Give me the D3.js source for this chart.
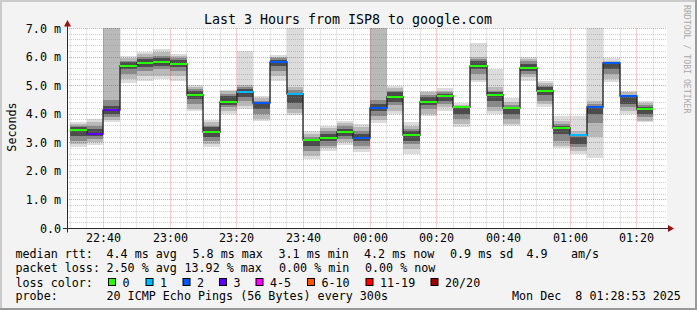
<!DOCTYPE html>
<html>
<head>
<meta charset="utf-8">
<script src="https://cdn.jsdelivr.net/npm/d3@7"></script>
<style>
  html, body { margin: 0; padding: 0; background: #f3f3f3; }
  svg { display: block; }
  text { font-family: "DejaVu Sans Mono", monospace; fill: #000; white-space: pre; }
</style>
</head>
<body>
<script>
// one bar per 5 minute step, labelled by its end time
const barEnds = [
    "22:35", "22:40", "22:45", "22:50", "22:55", "23:00", "23:05", "23:10", "23:15", "23:20",
    "23:25", "23:30", "23:35", "23:40", "23:45", "23:50", "23:55", "00:00", "00:05", "00:10",
    "00:15", "00:20", "00:25", "00:30", "00:35", "00:40", "00:45", "00:50", "00:55", "01:00",
    "01:05", "01:10", "01:15", "01:20", "01:25"
];
const medianRtt = [
    3.46, 3.30, 4.14, 5.70, 5.79, 5.82, 5.74, 4.66, 3.37, 4.44,
    4.77, 4.38, 5.82, 4.70, 3.09, 3.18, 3.37, 3.16, 4.21, 4.60,
    3.28, 4.44, 4.63, 4.25, 5.70, 4.66, 4.22, 5.61, 4.80, 3.51,
    3.27, 4.25, 5.78, 4.63, 4.17
];
const lostPings = [
    0, 3, 3, 0, 0, 0, 0, 0, 0, 0,
    1, 2, 2, 1, 0, 0, 0, 2, 2, 0,
    0, 0, 0, 0, 0, 0, 0, 0, 0, 0,
    1, 2, 2, 2, 0
];
// smoke bands [low, high] in ms, outermost pings first
const smokeOuter = [
    [2.85, 3.72], [2.93, 3.84], [3.72, 7.8], [5.10, 6.03], [5.18, 6.19], [5.24, 6.29], [5.18, 6.11],
    [4.10, 5.03], [2.85, 3.80], [4.01, 4.86], [4.20, 6.23], [3.78, 4.63], [5.18, 6.08], [3.98, 7.8],
    [2.44, 3.40], [2.73, 3.60], [2.93, 3.78], [2.67, 3.66], [3.70, 7.8], [4.01, 5.00], [2.61, 3.72],
    [3.93, 4.83], [4.13, 4.91], [3.55, 4.40], [5.12, 6.50], [4.01, 5.59], [3.58, 4.56], [5.18, 6.00],
    [4.25, 5.18], [2.81, 3.93], [2.61, 3.93], [2.46, 7.8], [5.12, 5.96], [4.01, 4.83], [3.72, 4.48]
];
const smokeMid = [
    [2.96, 3.66], [3.02, 3.72], [3.80, 7.5], [5.24, 5.96], [5.35, 6.11], [5.35, 6.19], [5.35, 6.05],
    [4.19, 4.95], [2.96, 3.72], [4.10, 4.80], [4.30, 5.02], [3.84, 4.56], [5.35, 6.02], [4.05, 4.95],
    [2.55, 3.31], [2.81, 3.51], [3.02, 3.70], [2.79, 3.55], [3.80, 7.4], [4.13, 4.91], [2.79, 3.60],
    [4.01, 4.77], [4.25, 4.83], [3.66, 4.33], [5.20, 6.00], [4.10, 4.95], [3.66, 4.44], [5.30, 5.94],
    [4.36, 5.10], [2.90, 3.78], [2.73, 3.43], [3.20, 4.45], [5.24, 5.88], [4.10, 4.77], [3.78, 4.40]
];
const smokeInner = [
    [3.08, 3.60], [3.14, 3.60], [3.90, 4.50], [5.41, 5.88], [5.53, 5.99], [5.59, 6.05], [5.53, 5.97],
    [4.36, 4.89], [3.08, 3.60], [4.25, 4.71], [4.45, 4.95], [4.01, 4.48], [5.53, 5.96], [4.20, 4.85],
    [2.70, 3.20], [2.90, 3.40], [3.14, 3.60], [2.90, 3.43], [3.95, 4.50], [4.31, 4.83], [2.96, 3.49],
    [4.19, 4.68], [4.36, 4.77], [3.84, 4.25], [5.41, 5.94], [4.25, 4.83], [3.84, 4.33], [5.41, 5.85],
    [4.48, 5.00], [3.08, 3.66], [2.85, 3.25], [3.70, 4.35], [5.41, 5.82], [4.25, 4.68], [3.90, 4.31]
];
const smokeCore = [
    [3.25, 3.55], [3.25, 3.49], [4.00, 4.30], [5.59, 5.82], [5.65, 5.94], [5.70, 5.96], [5.65, 5.90],
    [4.54, 4.83], [3.20, 3.55], [4.33, 4.63], [4.60, 4.88], [4.19, 4.44], [5.70, 5.90], [4.40, 4.75],
    [2.90, 3.14], [3.08, 3.31], [3.25, 3.49], [3.08, 3.31], [4.10, 4.35], [4.44, 4.77], [3.08, 3.40],
    [4.31, 4.60], [4.48, 4.71], [4.01, 4.21], [5.59, 5.85], [4.48, 4.77], [4.01, 4.27], [5.53, 5.76],
    [4.66, 4.95], [3.31, 3.60], [2.96, 3.20], [4.00, 4.30], [5.59, 5.80], [4.36, 4.62], [4.01, 4.25]
];

const lossBuckets = ["0", "1", "2", "3", "4-5", "6-10", "11-19", "20/20"];
const lossUpper = [0, 1, 2, 3, 5, 10, 19, 20];
const lossColors = ["#26ff00", "#00b8ff", "#0059ff", "#5e00ff", "#ff00ff", "#ff5500", "#ff0000", "#a10000"];

const yTickValues = [0, 1, 2, 3, 4, 5, 6, 7];
const yTickLabels = ["0.0", "1.0 m", "2.0 m", "3.0 m", "4.0 m", "5.0 m", "6.0 m", "7.0 m"];
const xTickLabels = ["22:40", "23:00", "23:20", "23:40", "00:00", "00:20", "00:40", "01:00", "01:20"];

const titleText = "Last 3 Hours from ISP8 to google.com";
const rttStats = ["4.4 ms avg", "5.8 ms max", "3.1 ms min", "4.2 ms now", "0.9 ms sd", "4.9", "am/s"];
const lossStats = ["2.50 % avg", "13.92 % max", "0.00 % min", "0.00 % now"];
const probeText = "20 ICMP Echo Pings (56 Bytes) every 300s";
const stampText = "Mon Dec  8 01:28:53 2025";

const width = 697, height = 310;
const plot = { left: 67, right: 667, top: 28.5, bottom: 228.5 };
const bandColors = ["#dcdcdc", "#b9b9b9", "#8a8a8a", "#4c4c4c"];
const fontSize = 11.7;

const parseClock = s => {
    const [h, m] = s.split(":").map(Number);
    return new Date(2025, 11, h >= 12 ? 7 : 8, h, m);
};

const startTime = new Date(2025, 11, 7, 22, 29, 6);
const endTime = new Date(2025, 11, 8, 1, 29, 6);

const xScale = d3.scaleTime().domain([startTime, endTime]).range([plot.left, plot.right]);
const yScale = d3.scaleLinear().domain([0, 7]).range([plot.bottom, plot.top]);

const bars = barEnds.map((s, i) => {
    const end = parseClock(s);
    const begin = new Date(Math.max(+startTime, +d3.timeMinute.offset(end, -5)));
    return {
        x0: Math.round(xScale(begin)),
        x1: Math.round(xScale(end)),
        median: medianRtt[i],
        lost: lostPings[i],
        bands: [smokeOuter[i], smokeMid[i], smokeInner[i], smokeCore[i]]
    };
});

const lossIndex = lost => lossUpper.findIndex(u => lost <= u);
const crisp = v => Math.round(v - 0.5) + 0.5;

const svg = d3.select("body").append("svg")
    .attr("width", width)
    .attr("height", height);

// frame
svg.append("rect").attr("width", width).attr("height", height).attr("fill", "#f3f3f3");
svg.append("rect").attr("x", 0).attr("y", 0).attr("width", width).attr("height", 2).attr("fill", "#cbcbcb");
svg.append("rect").attr("x", 0).attr("y", 0).attr("width", 2).attr("height", height).attr("fill", "#cbcbcb");
svg.append("rect").attr("x", 0).attr("y", height - 2).attr("width", width).attr("height", 2).attr("fill", "#999");
svg.append("rect").attr("x", width - 2).attr("y", 0).attr("width", 2).attr("height", height).attr("fill", "#999");

// canvas
svg.append("rect")
    .attr("x", plot.left).attr("y", plot.top - 0.5)
    .attr("width", plot.right - plot.left).attr("height", plot.bottom - plot.top)
    .attr("fill", "#fff");

svg.append("clipPath").attr("id", "plot-clip")
    .append("rect")
    .attr("x", plot.left).attr("y", plot.top - 0.5)
    .attr("width", plot.right - plot.left).attr("height", plot.bottom - plot.top);

// smoke
const smoke = svg.append("g").attr("clip-path", "url(#plot-clip)");
bandColors.forEach((color, k) => {
    smoke.append("g").selectAll("rect")
        .data(bars)
        .join("rect")
        .attr("x", d => d.x0)
        .attr("width", d => d.x1 - d.x0)
        .attr("y", d => Math.round(yScale(d.bands[k][1])))
        .attr("height", d => Math.round(yScale(d.bands[k][0])) - Math.round(yScale(d.bands[k][1])))
        .attr("fill", color);
});

// grid
const grid = svg.append("g").attr("stroke-dasharray", "1,1").attr("stroke-width", 1).attr("fill", "none");
const minorY = d3.range(0, 35).map(i => i / 5).filter(v => v % 1 !== 0);
grid.selectAll(".hminor").data(minorY).join("line")
    .attr("x1", plot.left).attr("x2", plot.right)
    .attr("y1", d => crisp(yScale(d))).attr("y2", d => crisp(yScale(d)))
    .attr("stroke", "rgba(134,134,134,0.4)");
const minorX = xScale.ticks(d3.timeMinute.every(5)).filter(t => t.getMinutes() % 20 !== 0);
grid.selectAll(".vminor").data(minorX).join("line")
    .attr("x1", d => crisp(xScale(d))).attr("x2", d => crisp(xScale(d)))
    .attr("y1", plot.top).attr("y2", plot.bottom)
    .attr("stroke", "rgba(134,134,134,0.4)");
grid.selectAll(".hmajor").data(yTickValues.slice(1)).join("line")
    .attr("x1", plot.left).attr("x2", plot.right)
    .attr("y1", d => crisp(yScale(d))).attr("y2", d => crisp(yScale(d)))
    .attr("stroke", "rgba(210,40,40,0.45)");
const majorX = xScale.ticks(d3.timeMinute.every(20));
grid.selectAll(".vmajor").data(majorX).join("line")
    .attr("x1", d => crisp(xScale(d))).attr("x2", d => crisp(xScale(d)))
    .attr("y1", plot.top).attr("y2", plot.bottom)
    .attr("stroke", "rgba(210,40,40,0.45)");

// median: dark step line, then loss coloured segments
const stepPoints = bars.flatMap(d => {
    const y = Math.round(yScale(d.median));
    return [[d.x0, y], [d.x1, y]];
});
svg.append("path")
    .attr("d", d3.line()(stepPoints))
    .attr("fill", "none")
    .attr("stroke", "#202020")
    .attr("stroke-width", 1.3);

svg.append("g").selectAll("line")
    .data(bars)
    .join("line")
    .attr("x1", d => d.x0).attr("x2", d => d.x1)
    .attr("y1", d => Math.round(yScale(d.median)))
    .attr("y2", d => Math.round(yScale(d.median)))
    .attr("stroke", d => lossColors[lossIndex(d.lost)])
    .attr("stroke-width", 2);

// axes
const axisColor = "#2a2a2a", arrowColor = "#9a1010";
svg.append("line")
    .attr("x1", plot.left - 4).attr("x2", plot.right + 3)
    .attr("y1", plot.bottom).attr("y2", plot.bottom)
    .attr("stroke", axisColor);
svg.append("line")
    .attr("x1", plot.left + 0.5).attr("x2", plot.left + 0.5)
    .attr("y1", plot.bottom + 4).attr("y2", plot.top - 6)
    .attr("stroke", axisColor);
svg.append("path")
    .attr("d", `M${plot.right + 1},${plot.bottom - 3.5}L${plot.right + 7},${plot.bottom}L${plot.right + 1},${plot.bottom + 3.5}Z`)
    .attr("fill", arrowColor);
svg.append("path")
    .attr("d", `M${plot.left - 3},${plot.top - 2}L${plot.left + 0.5},${plot.top - 8.5}L${plot.left + 4},${plot.top - 2}Z`)
    .attr("fill", arrowColor);

// tick labels
svg.append("g").selectAll("text")
    .data(yTickValues)
    .join("text")
    .attr("x", 61)
    .attr("y", d => yScale(d) + 4)
    .attr("text-anchor", "end")
    .style("font-size", fontSize + "px")
    .text((d, i) => yTickLabels[i]);

svg.append("g").selectAll("text")
    .data(majorX)
    .join("text")
    .attr("x", d => crisp(xScale(d)))
    .attr("y", 242)
    .attr("text-anchor", "middle")
    .style("font-size", fontSize + "px")
    .text((d, i) => xTickLabels[i]);

// title and side texts
svg.append("text")
    .attr("x", 348).attr("y", 24)
    .attr("text-anchor", "middle")
    .style("font-size", "13.3px")
    .text(titleText);

svg.append("text")
    .attr("transform", "translate(15.5,127) rotate(-90)")
    .attr("text-anchor", "middle")
    .style("font-size", fontSize + "px")
    .text("Seconds");

svg.append("text")
    .attr("transform", "translate(683.5,5) rotate(90)")
    .style("font-size", "8.2px")
    .style("fill", "#a9a9a9")
    .text("RRDTOOL / TOBI OETIKER");

// legend
const legend = svg.append("g").style("font-size", fontSize + "px");
const addText = (x, y, s) => legend.append("text").attr("x", x).attr("y", y).text(s);

addText(15.5, 258, "median rtt:");
[106.5, 192.5, 278.5, 364, 450, 526.5, 571].forEach((x, i) => addText(x, 258, rttStats[i]));

addText(15.5, 272, "packet loss:");
[106.5, 184.5, 279, 365].forEach((x, i) => addText(x, 272, lossStats[i]));

addText(15.5, 286.5, "loss color:");
const boxX = [108, 145.5, 182.5, 219, 255.5, 307, 365.5, 430.5];
lossBuckets.forEach((label, i) => {
    legend.append("rect")
        .attr("x", boxX[i] + 0.5).attr("y", 278.5)
        .attr("width", 7).attr("height", 7)
        .attr("fill", lossColors[i])
        .attr("stroke", "#000");
    addText(boxX[i] + 14.5, 286.5, label);
});

addText(15.5, 300, "probe:");
addText(106.5, 300, probeText);
addText(512, 300, stampText);
</script>
</body>
</html>
